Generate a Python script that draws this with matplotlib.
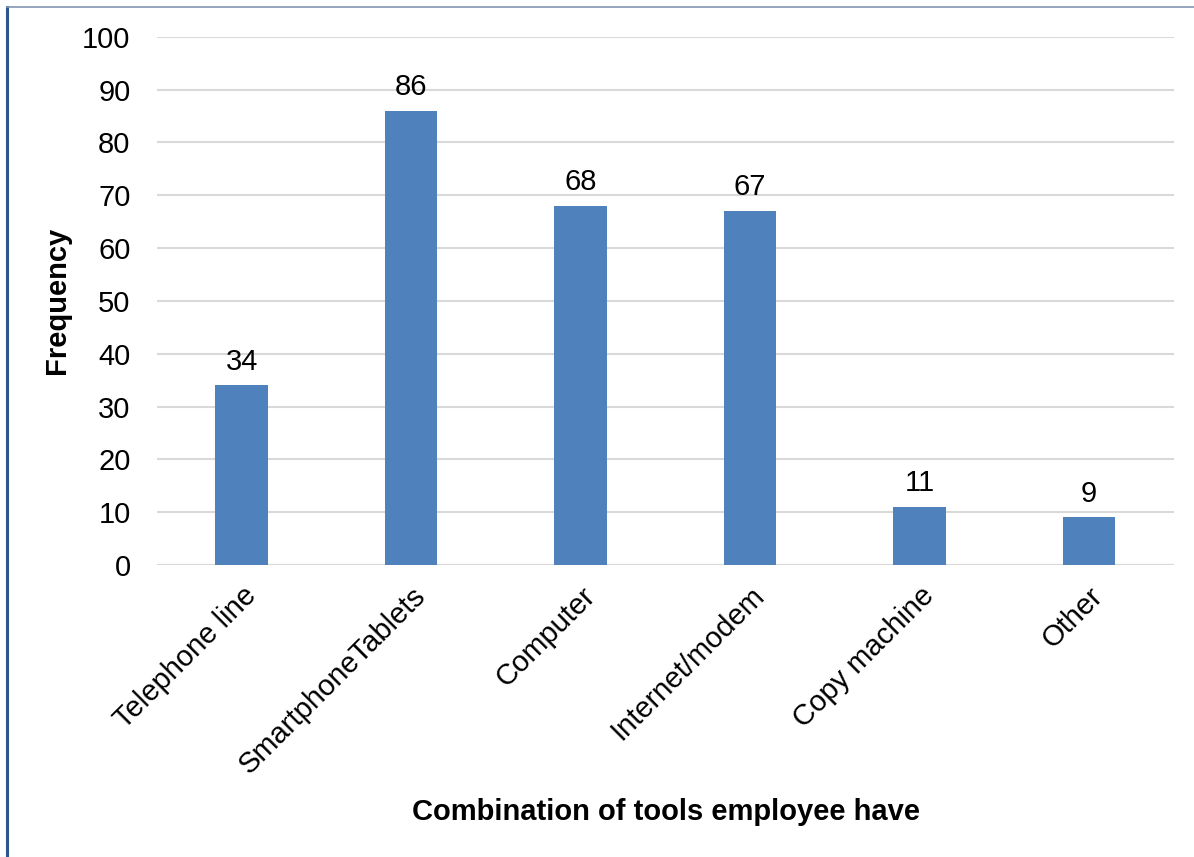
import matplotlib
matplotlib.use("Agg")
import matplotlib.pyplot as plt
from matplotlib.lines import Line2D

categories = ["Telephone line", "SmartphoneTablets", "Computer",
              "Internet/modem", "Copy machine", "Other"]
frequency = [34, 86, 68, 67, 11, 9]
y_ticks = list(range(0, 101, 10))

plt.rcParams["font.family"] = ["Liberation Sans", "DejaVu Sans"]
FS = 21

fig = plt.figure(figsize=(11.94, 8.57), dpi=100)
ax = fig.add_axes([0.1315, 0.3407, 0.8515, 0.6165])

x = range(len(categories))
bars = ax.bar(x, frequency, width=0.31, color="#4F81BD", zorder=3)
for rect, v in zip(bars, frequency):
    ax.annotate(str(v), (rect.get_x() + rect.get_width() / 2, v),
                xytext=(0, 7), textcoords="offset points",
                ha="center", va="bottom", fontsize=FS, color="#000000")

ax.set_xlim(-0.5, len(categories) - 0.5)
ax.set_ylim(0, 100)
ax.set_yticks(y_ticks)
ax.set_xticks(list(x))
ax.set_xticklabels(categories, rotation=45, ha="right", rotation_mode="anchor",
                   fontsize=FS)
ax.tick_params(axis="y", labelsize=FS, length=0, pad=19)
ax.tick_params(axis="x", length=0, pad=12)
ax.grid(axis="y", color="#D9D9D9", linewidth=1.5, zorder=0)
for s in ax.spines.values():
    s.set_visible(False)
ax.axhline(0, color="#D9D9D9", linewidth=1.5, zorder=2)

ax.set_ylabel("Frequency", fontsize=FS, fontweight="bold", labelpad=8)
fig.text(0.558, 0.0525, "Combination of tools employee have", ha="center",
         va="center", fontsize=FS, fontweight="bold")

# outer frame lines
fig.add_artist(Line2D([0.0055, 0.0055], [0, 0.992], transform=fig.transFigure,
                      color="#2F5590", linewidth=2.2))
fig.add_artist(Line2D([0.0055, 1], [0.992, 0.992], transform=fig.transFigure,
                      color="#8496B0", linewidth=1.2))

fig.savefig("out.png", dpi=100, facecolor="white")
